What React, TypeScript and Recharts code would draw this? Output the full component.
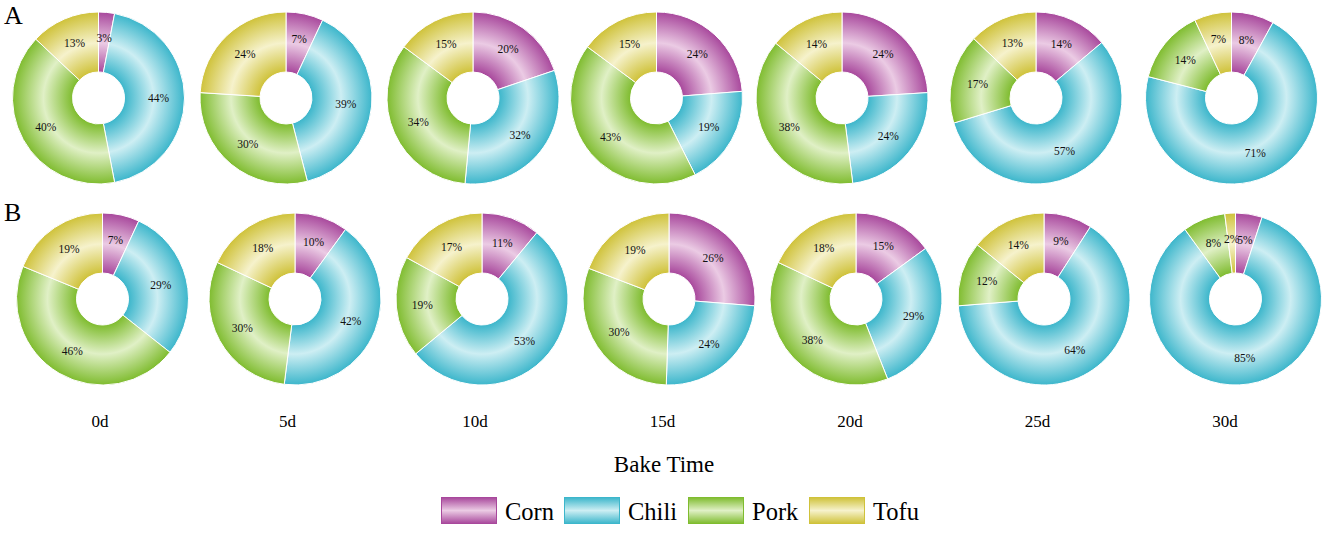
import React from 'react';
import { PieChart, Pie, Cell } from 'recharts';

const categories = ['Corn', 'Chili', 'Pork', 'Tofu'];
const days = ['0d', '5d', '10d', '15d', '20d', '25d', '30d'];
const rowNames = ['A', 'B'];

const cornA = [3, 7, 20, 24, 24, 14, 8];
const chiliA = [44, 39, 32, 19, 24, 57, 71];
const porkA = [40, 30, 34, 43, 38, 17, 14];
const tofuA = [13, 24, 15, 15, 14, 13, 7];

const cornB = [7, 10, 11, 26, 15, 9, 5];
const chiliB = [29, 42, 53, 24, 29, 64, 85];
const porkB = [46, 30, 19, 30, 38, 12, 8];
const tofuB = [19, 18, 17, 19, 18, 14, 2];

const seriesA = [cornA, chiliA, porkA, tofuA];
const seriesB = [cornB, chiliB, porkB, tofuB];
const rows = [seriesA, seriesB];

// layout (pixel positions of pie centres)
const centersX = [
  [98.5, 286, 473, 656.5, 842, 1036, 1231.5],
  [102.5, 295, 482, 669, 856, 1044, 1235.5],
];
const centersY = [98, 299];
const OUTER = 86;
const INNER = 26;
const LABEL_R = 60;

const darkColors = ['#a8489c', '#3cb6cb', '#7fbc2f', '#cfc23a'];
const lightColors = ['#ebcbe4', '#cdeef3', '#e0f0c6', '#f6f2cc'];

const FONT = '"Liberation Serif", "Times New Roman", Times, serif';

const legendSwatchX = [441, 564, 688, 809];

const RAD = Math.PI / 180;
const renderLabel = (p: any) => {
  const x = p.cx + LABEL_R * Math.cos(-p.midAngle * RAD);
  const y = p.cy + LABEL_R * Math.sin(-p.midAngle * RAD);
  const v = p.value ?? (p.payload && p.payload.value);
  return (
    <text
      x={x}
      y={y}
      textAnchor="middle"
      dominantBaseline="central"
      fontSize={11.5}
      fontFamily={FONT}
      style={{ fontFamily: FONT, fontSize: 11.5 }}
      fill="#111"
      stroke="none"
    >
      {v}%
    </text>
  );
};

export default function App() {
  const W = 1325;
  const H = 534;
  const gradients: React.ReactNode[] = [];
  rows.forEach((_, r) => {
    days.forEach((__, c) => {
      categories.forEach((___, j) => {
        gradients.push(
          <radialGradient
            key={`g-${r}-${c}-${j}`}
            id={`g-${r}-${c}-${j}`}
            gradientUnits="userSpaceOnUse"
            cx={centersX[r][c]}
            cy={centersY[r]}
            r={OUTER}
          >
            <stop offset={INNER / OUTER} stopColor={darkColors[j]} />
            <stop offset={0.64} stopColor={lightColors[j]} />
            <stop offset={1} stopColor={darkColors[j]} />
          </radialGradient>
        );
      });
    });
  });

  return (
    <div style={{ position: 'absolute', left: 0, top: 0, width: W, height: H, background: '#fff' }}>
      <PieChart width={W} height={H} margin={{ top: 0, right: 0, bottom: 0, left: 0 }}>
        <defs>{gradients}</defs>
        {rows.map((series, r) =>
          days.map((d, c) => {
            const data = categories.map((name, j) => ({ name, value: series[j][c] }));
            return (
              <Pie
                key={`p-${r}-${c}`}
                data={data}
                dataKey="value"
                nameKey="name"
                cx={centersX[r][c]}
                cy={centersY[r]}
                innerRadius={INNER}
                outerRadius={OUTER}
                startAngle={90}
                endAngle={-270}
                stroke="#ffffff"
                strokeWidth={1}
                label={renderLabel}
                labelLine={false}
                isAnimationActive={false}
              >
                {data.map((_, j) => (
                  <Cell key={`c-${j}`} fill={`url(#g-${r}-${c}-${j})`} />
                ))}
              </Pie>
            );
          })
        )}
      </PieChart>
      <svg
        width={W}
        height={H}
        style={{ position: 'absolute', left: 0, top: 0, pointerEvents: 'none', fontFamily: FONT }}
      >
        <defs>
          {categories.map((name, j) => (
            <linearGradient key={name} id={`lg-${j}`} x1="0" y1="0" x2="0" y2="1">
              <stop offset={0} stopColor={darkColors[j]} />
              <stop offset={0.5} stopColor={lightColors[j]} />
              <stop offset={1} stopColor={darkColors[j]} />
            </linearGradient>
          ))}
        </defs>
        <text x={4} y={24} fontSize={26} fontFamily={FONT} fill="#000">
          {rowNames[0]}
        </text>
        <text x={4} y={221} fontSize={26} fontFamily={FONT} fill="#000">
          {rowNames[1]}
        </text>
        {days.map((d, c) => (
          <text
            key={d}
            x={100 + c * 187.5}
            y={427}
            textAnchor="middle"
            fontSize={17}
            fontFamily={FONT}
            fill="#000"
          >
            {d}
          </text>
        ))}
        <text x={664} y={472} textAnchor="middle" fontSize={23} fontFamily={FONT} fill="#000">
          Bake Time
        </text>
        {categories.map((name, j) => (
          <g key={name}>
            <rect
              x={legendSwatchX[j] + 0.5}
              y={497.5}
              width={55}
              height={26}
              fill={`url(#lg-${j})`}
              stroke={darkColors[j]}
              strokeWidth={1}
            />
            <text
              x={legendSwatchX[j] + 64}
              y={520}
              fontSize={24.5}
              fontFamily={FONT}
              fill="#000"
            >
              {name}
            </text>
          </g>
        ))}
      </svg>
    </div>
  );
}
